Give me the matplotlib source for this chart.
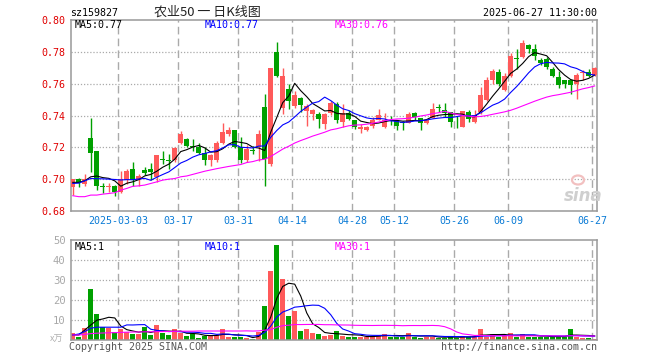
import numpy as np
import pandas as pd
import matplotlib
matplotlib.use("Agg")
import matplotlib.pyplot as plt
from matplotlib.patches import Ellipse
from matplotlib.transforms import blended_transform_factory

W, H = 660, 360

holidays = ["2025-04-04", "2025-05-01", "2025-05-02", "2025-05-05", "2025-06-02"]
dates = pd.bdate_range("2025-02-19", "2025-06-27")
dates = dates[~dates.isin(pd.to_datetime(holidays))]

open_ = [
    0.695, 0.700, 0.697, 0.726, 0.718, 0.6955, 0.695, 0.6957, 0.692, 0.6995,
    0.7065, 0.6995, 0.7056, 0.7067, 0.7015, 0.7125, 0.7118, 0.712, 0.723, 0.7255,
    0.7206, 0.720, 0.7165, 0.712, 0.712, 0.723, 0.7285, 0.731, 0.7205, 0.712,
    0.7185, 0.720, 0.7456, 0.7096, 0.780, 0.745, 0.7565, 0.746, 0.7513, 0.743,
    0.741, 0.741, 0.7346, 0.7413, 0.7475, 0.736, 0.7417, 0.737, 0.7315, 0.7311,
    0.7332, 0.7374, 0.7328, 0.7366, 0.737, 0.736, 0.7353, 0.7413, 0.7385, 0.735,
    0.7387, 0.7453, 0.7434, 0.7423, 0.739, 0.733, 0.7423, 0.7361, 0.7423, 0.7497,
    0.7622, 0.7674, 0.756, 0.7647, 0.7762, 0.777, 0.7842, 0.782, 0.775, 0.7758,
    0.769, 0.764, 0.7622, 0.7622, 0.7597, 0.7664, 0.7674, 0.7654,
]
high = [
    0.700, 0.7005, 0.703, 0.7385, 0.718, 0.6975, 0.6975, 0.6965, 0.705, 0.7065,
    0.7105, 0.7035, 0.7077, 0.7104, 0.7154, 0.718, 0.716, 0.7205, 0.730, 0.7257,
    0.725, 0.723, 0.720, 0.7155, 0.7237, 0.7355, 0.7325, 0.731, 0.7263, 0.7215,
    0.721, 0.731, 0.7535, 0.7696, 0.786, 0.770, 0.760, 0.7555, 0.7515, 0.747,
    0.744, 0.742, 0.7415, 0.749, 0.7485, 0.7472, 0.7434, 0.7372, 0.7345, 0.7335,
    0.739, 0.744, 0.7413, 0.740, 0.7372, 0.7366, 0.7423, 0.7423, 0.7385, 0.7376,
    0.7477, 0.7472, 0.7477, 0.7425, 0.740, 0.743, 0.7434, 0.7434, 0.7576, 0.7643,
    0.7695, 0.769, 0.767, 0.779, 0.782, 0.7873, 0.785, 0.785, 0.776, 0.777,
    0.7706, 0.768, 0.7625, 0.7625, 0.7668, 0.7685, 0.7695, 0.7706,
]
low = [
    0.690, 0.695, 0.696, 0.7046, 0.693, 0.6915, 0.692, 0.6895, 0.6915, 0.697,
    0.696, 0.6958, 0.7025, 0.6994, 0.6983, 0.7098, 0.7067, 0.7105, 0.722, 0.720,
    0.718, 0.716, 0.7087, 0.708, 0.711, 0.722, 0.727, 0.7195, 0.710, 0.711,
    0.716, 0.7117, 0.696, 0.7085, 0.7645, 0.741, 0.744, 0.7445, 0.7425, 0.7335,
    0.737, 0.732, 0.7315, 0.7405, 0.735, 0.7328, 0.737, 0.7317, 0.729, 0.7305,
    0.732, 0.737, 0.7323, 0.7338, 0.731, 0.731, 0.735, 0.737, 0.7306, 0.7345,
    0.7385, 0.7423, 0.739, 0.7328, 0.732, 0.7325, 0.736, 0.7355, 0.741, 0.749,
    0.760, 0.7585, 0.7555, 0.764, 0.7695, 0.776, 0.779, 0.775, 0.7717, 0.7695,
    0.764, 0.757, 0.757, 0.7535, 0.7503, 0.7622, 0.764, 0.765,
]
close = [
    0.700, 0.6975, 0.700, 0.7167, 0.6957, 0.695, 0.6952, 0.692, 0.700, 0.705,
    0.6995, 0.702, 0.7038, 0.7046, 0.715, 0.7122, 0.7115, 0.7195, 0.7285, 0.721,
    0.7204, 0.7165, 0.712, 0.715, 0.7225, 0.7295, 0.731, 0.7205, 0.712, 0.719,
    0.718, 0.7283, 0.7127, 0.7696, 0.7648, 0.765, 0.749, 0.7527, 0.7465, 0.746,
    0.7433, 0.7377, 0.7408, 0.748, 0.737, 0.7413, 0.738, 0.733, 0.733, 0.7328,
    0.7374, 0.7402, 0.7374, 0.7364, 0.7332, 0.735, 0.7408, 0.7391, 0.735, 0.7374,
    0.7443, 0.745, 0.7413, 0.736, 0.7388, 0.743, 0.7375, 0.7403, 0.7528, 0.7622,
    0.768, 0.760, 0.7647, 0.7773, 0.7758, 0.7856, 0.7815, 0.7773, 0.7728, 0.7706,
    0.7647, 0.759, 0.7597, 0.759, 0.7654, 0.7674, 0.765, 0.770,
]
volume = [
    3.3, 1.7, 5.9, 25.6, 13.0, 6.4, 5.9, 4.2, 5.5, 3.9,
    3.0, 3.0, 6.4, 2.5, 7.5, 3.4, 2.5, 5.5, 3.4, 2.0,
    3.0, 1.2, 2.2, 2.5, 2.5, 5.5, 1.3, 1.3, 1.7, 1.2,
    0.5, 4.2, 17.0, 34.3, 47.7, 30.7, 12.2, 14.7, 4.7, 5.5,
    3.4, 3.0, 2.2, 2.5, 4.7, 2.2, 1.7, 1.7, 1.7, 1.3,
    2.2, 2.7, 3.0, 1.7, 1.7, 1.7, 3.7, 1.7, 1.2, 1.7,
    1.7, 1.2, 1.2, 1.7, 1.2, 2.0, 1.7, 1.7, 5.5, 1.7,
    3.0, 1.7, 2.0, 3.5, 1.7, 3.0, 1.7, 1.7, 1.7, 1.7,
    1.7, 1.7, 1.7, 5.5, 1.7, 1.2, 1.2, 0.7,
]

# moving-average values before a full window exists
ma5_head = [0.698, 0.698, 0.699, 0.7015]
ma10_head = [0.6973, 0.6975, 0.699, 0.7004, 0.7003, 0.7002, 0.700, 0.6998, 0.6995]
ma30_head = [
    0.6896, 0.689, 0.689, 0.690, 0.690, 0.6906, 0.691, 0.6915, 0.6931, 0.6942,
    0.6955, 0.6958, 0.6963, 0.6973, 0.6983, 0.6994, 0.700, 0.7004, 0.7015, 0.702,
    0.703, 0.704, 0.705, 0.7058, 0.7066, 0.7073, 0.708, 0.7086, 0.7092,
]
vol_ma5_head = [2.5, 2.5, 5.0, 7.5]
vol_ma10_head = [2.5, 3.0, 4.2, 5.9, 6.4, 6.4, 6.4, 6.4, 6.4]
vol_ma30_head = [
    2.5, 2.5, 2.8, 3.2, 3.4, 3.5, 3.6, 3.7, 3.8, 3.9,
    4.0, 4.0, 4.1, 4.1, 4.2, 4.2, 4.3, 4.3, 4.4, 4.4,
    4.4, 4.5, 4.5, 4.5, 4.5, 4.5, 4.5, 4.5, 4.5,
]

tick_dates = ["2025-03-03", "2025-03-17", "2025-03-31", "2025-04-14", "2025-04-28",
              "2025-05-12", "2025-05-26", "2025-06-09", "2025-06-27"]
price_ticks = [0.68, 0.70, 0.72, 0.74, 0.76, 0.78, 0.80]
vol_ticks = [10, 20, 30, 40, 50]

RED = "#ff5a5a"
GREEN = "#00a000"
GRID = "#aaaaaa"
MONO = "DejaVu Sans Mono"


def moving(values, n, head):
    out = pd.Series(values).rolling(n).mean().to_numpy()
    out[:n - 1] = head
    return out


def box(l, t, r, b):
    return [l / W, 1 - b / H, (r - l) / W, (b - t) / H]


o, h, lo, c, v = map(np.array, (open_, high, low, close, volume))
x = np.arange(len(dates))
up = c >= o
colors = np.where(up, RED, GREEN)
tick_idx = [dates.get_loc(pd.Timestamp(d)) for d in tick_dates]
grid_x = [i - 0.4 for i in tick_idx]

fig = plt.figure(figsize=(W / 100, H / 100), dpi=100)
ax = fig.add_axes(box(71, 20, 597, 211))
axv = fig.add_axes(box(71, 240, 597, 340))

for a in (ax, axv):
    a.set_xlim(-0.3, len(x) - 0.6)
    a.set_xticks([])
    for s in a.spines.values():
        s.set_color("#999999")
        s.set_linewidth(1.1)
    for gx in grid_x:
        a.axvline(gx, color=GRID, lw=1.0, ls=(0, (5.5, 3)), zorder=0)

# price panel
ax.set_ylim(0.68, 0.80)
for y in price_ticks[1:-1]:
    ax.axhline(y, color=GRID, lw=0.9, ls=(0, (1, 1.5)), zorder=0)
ax.vlines(x, lo, h, colors=colors, lw=1.0, zorder=2)
body_h = np.maximum(np.abs(c - o), 0.0004)
ax.bar(x, body_h, bottom=np.minimum(o, c), width=0.8, color=colors, lw=0, zorder=3)

ma5 = moving(c, 5, ma5_head)
ma10 = moving(c, 10, ma10_head)
ma30 = moving(c, 30, ma30_head)
ax.plot(x, ma5, color="black", lw=0.8, zorder=4)
ax.plot(x, ma10, color="#0000ff", lw=0.8, zorder=4)
ax.plot(x, ma30, color="#ff00ff", lw=0.8, zorder=4)

ax.set_yticks(price_ticks)
ax.set_yticklabels([f"{t:.2f}" for t in price_ticks], family=MONO, fontsize=7.2)
ax.tick_params(axis="y", length=0, pad=3.8, labelcolor="#e00000")

ax.text(4 / 526, 0.972, f"MA5:{ma5[-1]:.2f}", transform=ax.transAxes, ha="left", va="center",
        family=MONO, fontsize=7.2, color="black")
ax.text(134 / 526, 0.972, f"MA10:{ma10[-1]:.2f}", transform=ax.transAxes, ha="left", va="center",
        family=MONO, fontsize=7.2, color="#0000ff")
ax.text(264 / 526, 0.972, f"MA30:{ma30[-1]:.2f}", transform=ax.transAxes, ha="left", va="center",
        family=MONO, fontsize=7.2, color="#ff00ff")

trans = blended_transform_factory(ax.transData, fig.transFigure)
for i, (gx, d) in enumerate(zip(grid_x, tick_dates)):
    label = d if i == 0 else d[5:]
    ax.text(gx, 1 - 221 / H, label, transform=trans, ha="center", va="center",
            family=MONO, fontsize=7.2, color="#0a7bd6", clip_on=False)

# sina watermark: eye mark drawn as a shape, word as text
fig.patches.append(Ellipse((578 / W, 1 - 180 / H), 12 / W, 9 / H, transform=fig.transFigure,
                           fill=False, edgecolor="#f2c0c0", lw=1.6))
fig.text(583 / W, 1 - 196 / H, "sina", ha="center", va="center", fontsize=12,
         fontweight="bold", style="italic", color="#cfcfcf")

# volume panel
axv.set_ylim(0, 50)
for y in vol_ticks[:-1]:
    axv.axhline(y, color=GRID, lw=0.9, ls=(0, (1, 1.5)), zorder=0)
axv.bar(x, v, width=0.8, color=colors, lw=0, zorder=2)
axv.plot(x, moving(v, 5, vol_ma5_head), color="black", lw=0.8, zorder=3)
axv.plot(x, moving(v, 10, vol_ma10_head), color="#0000ff", lw=0.8, zorder=3)
axv.plot(x, moving(v, 30, vol_ma30_head), color="#ff00ff", lw=0.8, zorder=3)
axv.set_yticks(vol_ticks)
axv.set_yticklabels([str(t) for t in vol_ticks], family=MONO, fontsize=7.6)
axv.tick_params(axis="y", length=0, pad=3.8, labelcolor="#a8a8a8")

axv.text(4 / 526, 0.93, "MA5:1", transform=axv.transAxes, ha="left", va="center",
         family=MONO, fontsize=7.2, color="black")
axv.text(134 / 526, 0.93, "MA10:1", transform=axv.transAxes, ha="left", va="center",
         family=MONO, fontsize=7.2, color="#0000ff")
axv.text(264 / 526, 0.93, "MA30:1", transform=axv.transAxes, ha="left", va="center",
         family=MONO, fontsize=7.2, color="#ff00ff")

# header and footer
fig.text(70 / W, 1 - 13 / H, "sz159827", ha="left", va="center", family=MONO,
         fontsize=7.2, color="black")
fig.text(207 / W, 1 - 12 / H, "农业50 一 日K线图", ha="center", va="center",
         family=["Noto Sans CJK SC", "DejaVu Sans"], fontsize=9.4, color="#222222")
fig.text(597 / W, 1 - 13 / H, "2025-06-27 11:30:00", ha="right", va="center", family=MONO,
         fontsize=7.2, color="black")
fig.text(63 / W, 1 - 339 / H, "x万", ha="right", va="center",
         family=["Noto Sans CJK SC", "DejaVu Sans"], fontsize=6.5, color="#b0b0b0")
fig.text(69 / W, 1 - 347 / H, "Copyright 2025 SINA.COM", ha="left", va="center",
         family=MONO, fontsize=7.2, color="#555555")
fig.text(597 / W, 1 - 347 / H, "http://finance.sina.com.cn", ha="right", va="center",
         family=MONO, fontsize=7.2, color="#555555")

fig.savefig("out.png", dpi=100, facecolor="white")
